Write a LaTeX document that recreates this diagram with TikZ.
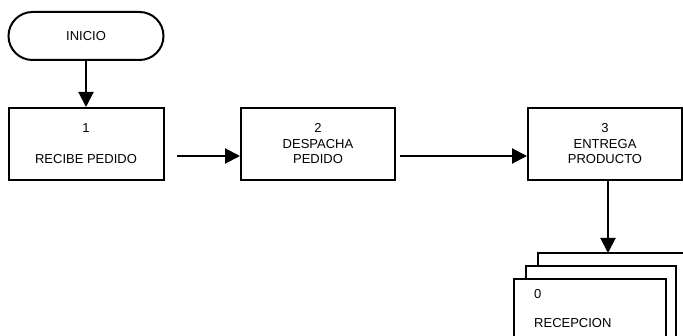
\documentclass[tikz,border=0pt]{standalone}
\usepackage{fontspec}
\setmainfont{Liberation Sans}
\usetikzlibrary{arrows.meta}
\begin{document}
\begin{tikzpicture}[x=1pt,y=-1pt,
  every node/.style={font=\fontsize{13}{15.5}\selectfont},
  proc/.style={draw, line width=2pt, minimum width=154pt, minimum height=72pt, align=center, inner sep=0pt},
  term/.style={draw, line width=2pt, rounded corners=24pt, minimum width=155pt, minimum height=48pt, inner sep=0pt},
  sheet/.style={draw, line width=2pt},
  flow/.style={line width=2pt, -{Triangle[length=15pt,width=15pt]}}]
\useasboundingbox (0,0) rectangle (683,336);
\clip (0,0) rectangle (683,336);
\node[term] (inicio) at (86,36) {INICIO};
\node[proc, minimum width=155pt] (b1) at (86,144) {1\\[15.5pt]RECIBE PEDIDO};
\node[proc] (b2) at (318,144) {2\\DESPACHA\\PEDIDO};
\node[proc] (b3) at (605,144) {3\\ENTREGA\\PRODUCTO};
% document stack
\draw[sheet] (538,266) -- (538,253) -- (690,253);
\draw[sheet] (526,278) -- (526,266) -- (676,266) -- (676,345);
\node[sheet, anchor=north west, minimum width=152pt, minimum height=70pt, inner sep=0pt] (doc) at (513,278) {};
\node[anchor=west, align=left, inner sep=0pt] (doctext) at (534,309) {0\\[13.5pt]RECEPCION};
\coordinate (docTop) at (608,253);
\coordinate (a1s) at (177,156);
\coordinate (a2s) at (400,156);
\draw[flow] (inicio.south) -- (b1.north);
\draw[flow] (a1s) -- (a1s -| b2.west);
\draw[flow] (a2s) -- (a2s -| b3.west);
\draw[flow] (b3.south -| docTop) -- (docTop);
\end{tikzpicture}
\end{document}
